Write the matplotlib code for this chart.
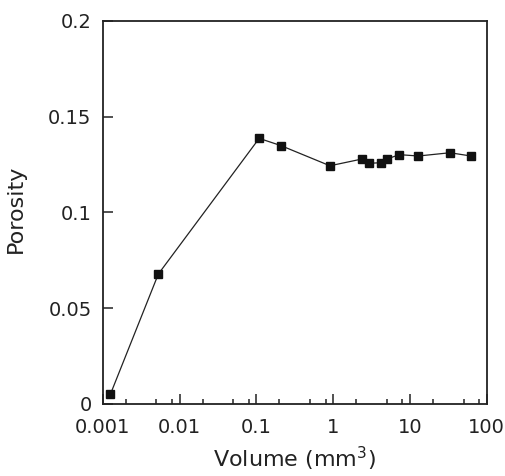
import matplotlib
matplotlib.use("Agg")
import matplotlib.pyplot as plt
from matplotlib.ticker import LogLocator, NullFormatter, FixedLocator

plt.rcParams['font.family'] = ['DejaVu Sans']

# values
volume = [0.00126, 0.0053, 0.109, 0.21, 0.91, 2.36, 2.96, 4.2, 5.0, 7.3, 12.9, 33.3, 62.5]
porosity = [0.0051, 0.0678, 0.1386, 0.1348, 0.1243, 0.1278, 0.1256, 0.1259, 0.1278, 0.1301, 0.1294, 0.1311, 0.1294]
x_ticks = [0.001, 0.01, 0.1, 1, 10, 100]
x_labels = ['0.001', '0.01', '0.1', '1', '10', '100']
y_ticks = [0, 0.05, 0.1, 0.15, 0.2]
y_labels = ['0', '0.05', '0.1', '0.15', '0.2']

fig = plt.figure(figsize=(5.05, 4.76), dpi=100)
ax = fig.add_axes([0.2034, 0.1513, 0.7603, 0.8052])

ax.plot(volume, porosity, color='#222222', lw=0.9, marker='s', ms=5.5,
        mfc='#111111', mec='#111111')

ax.set_xscale('log')
ax.set_xlim(0.001, 100)
ax.set_ylim(0, 0.2)

ax.xaxis.set_major_locator(FixedLocator(x_ticks))
ax.set_xticklabels(x_labels)
ax.xaxis.set_minor_locator(LogLocator(base=10, subs=[2, 5, 8]))
ax.xaxis.set_minor_formatter(NullFormatter())
ax.set_yticks(y_ticks)
ax.set_yticklabels(y_labels)

ax.tick_params(which='both', direction='in', top=False, right=False,
               labelsize=14, colors='#222222', width=1.1)
ax.tick_params(axis='x', which='major', length=7, pad=10)
ax.tick_params(axis='x', which='minor', length=3.5)
ax.tick_params(axis='y', which='major', length=7, pad=8)

for s in ax.spines.values():
    s.set_linewidth(1.3)
    s.set_color('#222222')

ax.set_xlabel('Volume (mm$^3$)', fontsize=16, color='#222222', labelpad=6)
ax.set_ylabel('Porosity', fontsize=16, color='#222222', labelpad=15)
ax.yaxis.set_label_coords(-0.2, 0.51)

fig.savefig('out.png', dpi=100)
